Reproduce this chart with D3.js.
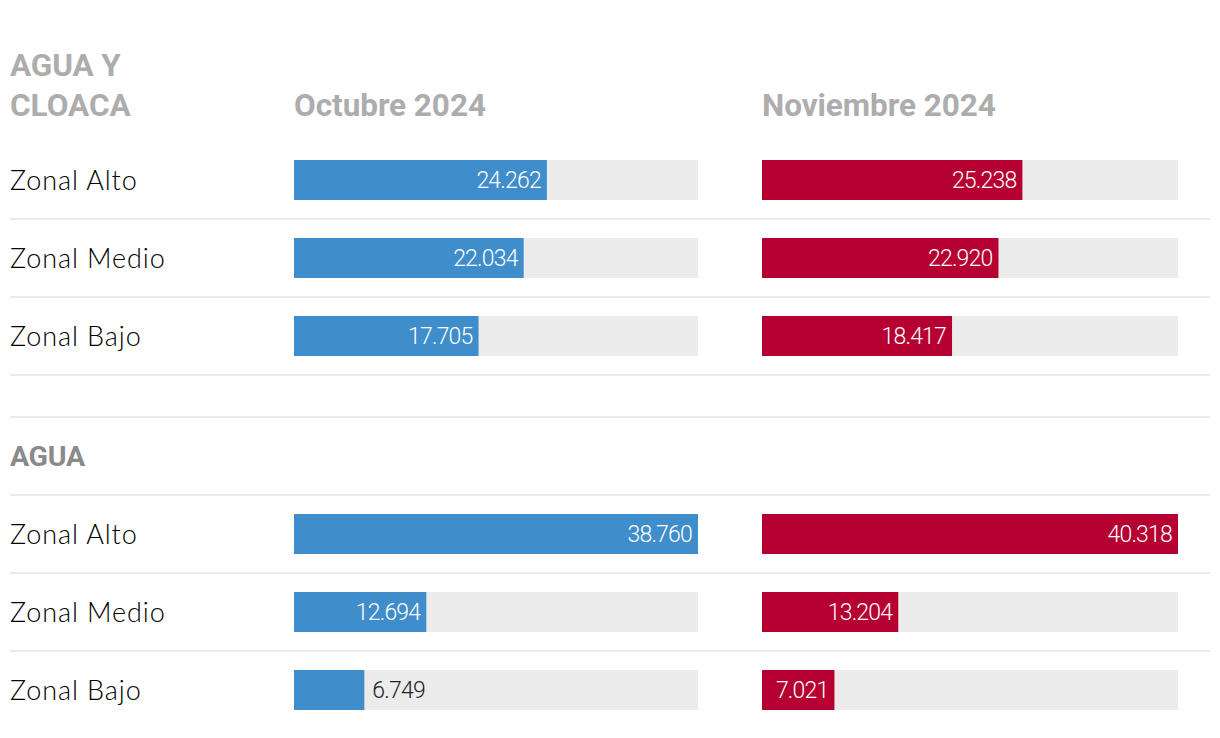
<!DOCTYPE html>
<html>
<head>
<meta charset="utf-8">
<script src="https://cdn.jsdelivr.net/npm/d3@7"></script>
<style>
  html, body { margin: 0; padding: 0; background: #fff; }
  svg { display: block; }
</style>
</head>
<body>
<svg id="chart" width="1220" height="738"></svg>
<script>
// ---- data ----
const sections = ["AGUA Y CLOACA", "AGUA"];
const categories = ["Zonal Alto", "Zonal Medio", "Zonal Bajo"];
const periods = ["Octubre 2024", "Noviembre 2024"];
const octAguaCloaca = [24262, 22034, 17705];
const novAguaCloaca = [25238, 22920, 18417];
const octAgua = [38760, 12694, 6749];
const novAgua = [40318, 13204, 7021];

const seriesBySection = [
  [octAguaCloaca, novAguaCloaca],
  [octAgua, novAgua]
];

// ---- layout / style ----
const svg = d3.select("#chart");
const colors = ["#3f8dca", "#b60031"];
const trackColor = "#ececec";
const lineColor = "#ebebeb";
const colX = [[294, 698], [762, 1178]];
const rowH = 78, barH = 40;
const labelFont = "Lato, 'Open Sans', sans-serif";
const headFont = "Roboto, 'Liberation Sans', sans-serif";
const valueFont = "Roboto, sans-serif";

const fmt = v => d3.format(",")(v).replace(/,/g, ".");

// One x-scale per period column, domain from all values of that column
const xScales = periods.map((p, i) => {
  const maxV = d3.max(seriesBySection.flatMap(s => s[i]));
  return d3.scaleLinear().domain([0, maxV]).range(colX[i]);
});

const sectionTops = [141, 495];

// Section 1 header (two lines) + column titles
svg.append("text").attr("x", 10).attr("y", 76)
  .attr("font-family", headFont).attr("font-weight", 700).attr("font-size", 31.5)
  .attr("letter-spacing", -0.1)
  .attr("fill", "#adadad").text("AGUA Y");
svg.append("text").attr("x", 10).attr("y", 116)
  .attr("font-family", headFont).attr("font-weight", 700).attr("font-size", 31.5)
  .attr("letter-spacing", 0)
  .attr("fill", "#adadad").text("CLOACA");

periods.forEach((p, i) => {
  svg.append("text").attr("x", colX[i][0]).attr("y", 116)
    .attr("font-family", headFont).attr("font-weight", 700).attr("font-size", 31.5)
    .attr("letter-spacing", -0.05)
    .attr("fill", "#adadad").text(p);
});

// Gap line + section 2 header
svg.append("line").attr("x1", 10).attr("x2", 1210).attr("y1", 417).attr("y2", 417)
  .attr("stroke", lineColor).attr("stroke-width", 2);
svg.append("line").attr("x1", 10).attr("x2", 1210).attr("y1", 495).attr("y2", 495)
  .attr("stroke", lineColor).attr("stroke-width", 2);
svg.append("text").attr("x", 10).attr("y", 466)
  .attr("font-family", headFont).attr("font-weight", 700).attr("font-size", 28.5)
  .attr("letter-spacing", -0.3)
  .attr("fill", "#8a8a8a").text(sections[1]);

sections.forEach((sec, si) => {
  const top = sectionTops[si];
  const y = d3.scaleBand().domain(categories).range([top, top + rowH * categories.length]);
  const g = svg.append("g");

  categories.forEach((cat, ci) => {
    const y0 = y(cat);
    const cy = y0 + rowH / 2;
    if (!(si === sections.length - 1 && ci === categories.length - 1)) {
      g.append("line").attr("x1", 10).attr("x2", 1210)
        .attr("y1", y0 + rowH).attr("y2", y0 + rowH)
        .attr("stroke", lineColor).attr("stroke-width", 2);
    }
    g.append("text").attr("x", 10).attr("y", cy + 10)
      .attr("font-family", labelFont).attr("font-weight", 300).attr("font-size", 27)
      .attr("letter-spacing", 0.9)
      .attr("fill", "#000").text(cat);

    periods.forEach((p, pi) => {
      const x = xScales[pi];
      const v = seriesBySection[si][pi][ci];
      const by = cy - barH / 2;
      g.append("rect").attr("x", x.range()[0]).attr("y", by)
        .attr("width", x.range()[1] - x.range()[0]).attr("height", barH)
        .attr("fill", trackColor);
      const w = x(v) - x(0);
      g.append("rect").attr("x", x(0)).attr("y", by)
        .attr("width", w).attr("height", barH).attr("fill", colors[pi]);
      const inside = w > 71;
      g.append("text")
        .attr("x", inside ? x(v) - 6 : x(v) + 8)
        .attr("y", cy + 8)
        .attr("text-anchor", inside ? "end" : "start")
        .attr("font-family", valueFont).attr("font-weight", 300).attr("font-size", 23)
        .attr("letter-spacing", -0.8)
        .attr("fill", inside ? "#fff" : "#222")
        .text(fmt(v));
    });
  });
});
</script>
</body>
</html>
